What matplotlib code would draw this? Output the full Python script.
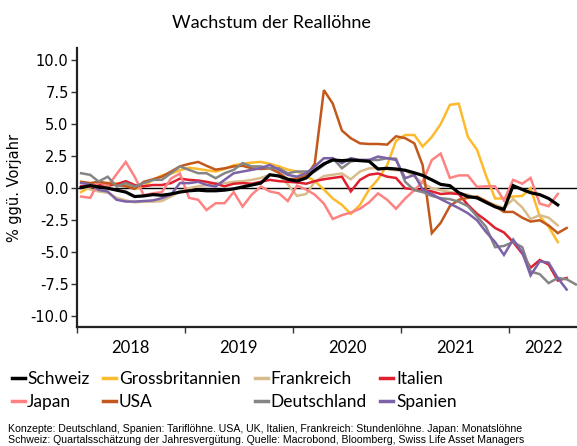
import numpy as np
import pandas as pd
import matplotlib
matplotlib.use("agg")
import matplotlib.pyplot as plt
import matplotlib.dates as mdates
from matplotlib.ticker import FixedLocator, FuncFormatter

plt.rcParams['axes.unicode_minus'] = False

# Monatswerte ab Januar 2018, % ggü. Vorjahr
schweiz = [0.05, 0.2, 0.1, 0.0, -0.15, -0.3, -0.65, -0.6, -0.5, -0.55, -0.45, -0.3,
           -0.2, -0.15, -0.2, -0.2, -0.15, -0.05, 0.1, 0.25, 0.4, 1.05, 0.95, 0.7,
           0.55, 0.8, 1.4, 1.9, 2.2, 2.15, 2.2, 2.15, 2.1, 1.5, 1.55, 1.5,
           1.4, 1.2, 1.0, 0.65, 0.3, 0.2, -0.35, -0.65, -0.75, -1.1, -1.45, -1.65,
           0.2, -0.1, -0.35, -0.5, -0.8, -1.3]
grossbritannien = [-0.3, 0.1, 0.25, 0.4, 0.4, 0.25, -0.05, 0.15, 0.65, 1.0, 1.15, 1.4,
                   1.6, 1.5, 1.4, 1.3, 1.5, 1.8, 1.9, 2.0, 2.05, 1.9, 1.7, 1.45,
                   1.3, 0.95, 0.55, -0.1, -0.8, -1.3, -2.0, -1.3, -0.1, 0.7, 1.8, 3.7,
                   4.15, 4.15, 3.25, 4.0, 5.0, 6.5, 6.6, 4.0, 3.0, 1.0, -0.8, -0.8,
                   -0.65, -0.6, 0.0, -2.2, -3.0, -4.2]
frankreich = [0.15, -0.1, -0.25, -0.35, -0.75, -0.95, -1.1, -1.05, -1.05, -1.0, -0.65, -0.25,
              0.0, 0.15, 0.25, 0.4, 0.4, 0.5, 0.55, 0.65, 0.8, 1.05, 1.0, 0.3,
              -0.6, -0.45, 0.5, 0.95, 1.05, 1.15, 0.7, 1.3, 1.55, 1.55, 1.5, 1.4,
              1.4, 0.9, 0.4, 0.0, -0.15, -0.3, -0.4, -0.5, -0.8, -1.05, -1.3, -1.55,
              -0.85, -1.5, -2.4, -2.1, -2.3, -2.9]
italien = [0.15, 0.15, 0.25, 0.2, 0.3, 0.55, 0.25, 0.15, 0.25, 0.25, 0.4, 0.75,
           0.65, 0.6, 0.5, 0.35, 0.15, 0.35, 0.4, 0.35, 0.5, 0.65, 0.55, 0.5,
           0.45, 0.35, 0.55, 0.7, 0.8, 0.9, -0.25, 0.65, 1.05, 1.15, 0.9, 0.8,
           0.0, -0.1, -0.15, -0.25, -0.45, -0.4, -0.45, -1.3, -2.0, -2.5, -3.1, -3.45,
           -4.2, -5.1, -6.2, -5.6, -5.95, -7.2, -7.0]
japan = [-0.65, -0.75, 0.5, 0.15, 1.1, 2.05, 0.9, -0.55, -0.4, -0.3, 0.75, 1.15,
         -0.75, -0.9, -1.7, -1.17, -1.17, -0.3, -1.43, -0.5, 0.13, -0.25, -0.4, -1.0,
         0.2, -0.1, -0.5, -1.2, -2.4, -2.1, -1.9, -1.6, -1.1, -0.4, -0.9, -1.6,
         -0.8, -0.15, 0.5, 2.2, 2.7, 0.8, 1.0, 1.0, 0.1, 0.15, 0.15, -0.95,
         0.65, 0.35, 0.8, -1.2, -1.4, -0.45]
usa = [0.5, 0.4, 0.5, 0.4, 0.25, 0.15, -0.05, 0.5, 0.7, 0.9, 1.3, 1.7,
       1.9, 2.05, 1.75, 1.45, 1.55, 1.7, 1.75, 1.55, 1.5, 1.55, 1.2, 0.7,
       0.75, 0.95, 1.9, 7.65, 6.6, 4.5, 3.9, 3.5, 3.45, 3.45, 3.4, 4.05,
       3.9, 3.5, 1.8, -3.5, -2.7, -1.4, -0.9, -0.75, -0.65, -1.0, -1.4, -1.85,
       -1.85, -2.3, -2.6, -2.5, -2.9, -3.5, -3.1]
deutschland = [1.17, 1.04, 0.52, 0.9, 0.13, 0.4, 0.13, 0.4, 0.65, 0.65, 1.17, 1.7,
               1.43, 1.17, 1.17, 0.78, 1.17, 1.43, 1.95, 1.7, 1.7, 1.56, 1.56, 1.17,
               1.3, 1.3, 1.3, 1.8, 2.34, 1.56, 2.08, 2.2, 2.2, 2.2, 2.34, 2.3,
               0.5, -0.15, -0.3, -0.6, -0.78, -0.85, -1.05, -1.4, -2.2, -3.0, -4.6, -4.5,
               -4.2, -4.6, -6.5, -6.7, -7.4, -7.0, -7.1, -7.5]
spanien = [0.4, 0.3, -0.13, -0.26, -0.9, -1.04, -1.04, -1.0, -0.95, -0.78, -0.5, 0.4,
           0.4, 0.5, 0.26, 0.13, 0.65, 1.17, 1.3, 1.43, 1.56, 1.82, 1.43, 1.04,
           0.9, 1.17, 1.69, 2.34, 2.34, 1.95, 2.34, 2.2, 2.2, 2.47, 2.34, 2.2,
           0.78, 1.04, -0.1, -0.45, -0.85, -1.2, -1.55, -1.95, -2.5, -3.4, -4.2, -5.2,
           -4.0, -5.0, -6.8, -5.7, -5.8, -7.0, -7.9]

series = [
    ('Schweiz', schweiz, '#000000'),
    ('Grossbritannien', grossbritannien, '#FDBA2C'),
    ('Frankreich', frankreich, '#D9BC8C'),
    ('Italien', italien, '#E0202F'),
    ('Japan', japan, '#FF8282'),
    ('USA', usa, '#C2581C'),
    ('Deutschland', deutschland, '#858585'),
    ('Spanien', spanien, '#7C62A6'),
]
years = [2018, 2019, 2020, 2021, 2022]

start = pd.Timestamp('2018-01-01')
end = pd.Timestamp('2022-08-19')


def month_dates(n):
    return pd.date_range(start, periods=n, freq='MS') + pd.Timedelta(days=14)


fig = plt.figure(figsize=(5.77, 4.46), dpi=100)
ax = fig.add_axes([0.1334, 0.266, 0.8666, 0.6254])

lines = {}
for name, vals, col in series:
    lw = 2.3 if name == 'Schweiz' else 1.8
    z = 5 if name == 'Schweiz' else 3
    ln, = ax.plot(month_dates(len(vals)), vals, color=col, lw=lw, zorder=z,
                  solid_joinstyle='miter')
    lines[name] = ln

ax.axhline(0, color='black', lw=1.0, zorder=2)

ax.set_ylim(-10.85, 10.9)
ax.set_xlim(start, end)
ax.set_yticks(np.arange(-10, 10.1, 2.5))
ax.yaxis.set_major_formatter(FuncFormatter(lambda v, p: '%.1f' % v))
ax.tick_params(axis='y', labelsize=10.5, length=4, width=1, color='#333333', pad=2)
ax.set_ylabel('% ggü. Vorjahr', fontsize=10.5, labelpad=6)

# Jahresticks an den Jahresgrenzen, Beschriftung in der Mitte
ax.xaxis.set_major_locator(FixedLocator([mdates.date2num(pd.Timestamp('%d-01-01' % y)) for y in years]))
ax.xaxis.set_major_formatter(FuncFormatter(lambda v, p: ''))
ax.tick_params(axis='x', which='major', length=4, width=1, color='#333333')
mids = []
for y in years:
    a = mdates.date2num(pd.Timestamp('%d-01-01' % y))
    b = min(mdates.date2num(pd.Timestamp('%d-01-01' % (y + 1))), mdates.date2num(end))
    mids.append((a + b) / 2)
ax.xaxis.set_minor_locator(FixedLocator(mids))
ax.xaxis.set_minor_formatter(FuncFormatter(lambda v, p: str(years[p])))
ax.tick_params(axis='x', which='minor', length=0, labelsize=12, pad=9)
for lab in ax.get_xticklabels(minor=True):
    lab.set_family('Lato')

for s in ['top', 'right']:
    ax.spines[s].set_visible(False)
for s in ['left', 'bottom']:
    ax.spines[s].set_linewidth(1.6)
    ax.spines[s].set_color('#222222')

fig.text(271 / 577, 1 - 23 / 446, 'Wachstum der Reallöhne', ha='center', va='center',
         fontsize=13, family='Lato')

# Legende zeilenweise: matplotlib füllt spaltenweise, daher umsortieren
names = [n for n, _, _ in series]
order = [names[i] for i in (0, 4, 1, 5, 2, 6, 3, 7)]
leg = fig.legend([lines[n] for n in order], order,
                 ncol=4, loc='upper left', bbox_to_anchor=(0.008, 1 - 364 / 446),
                 frameon=False, handlelength=0.75, handletextpad=0.15,
                 columnspacing=0.8, labelspacing=0.4, borderaxespad=0,
                 prop={'family': 'Lato', 'size': 12.5})
for h in leg.legend_handles:
    h.set_linewidth(2.5)

fig.text(8 / 577, 1 - 429 / 446,
         'Konzepte: Deutschland, Spanien: Tariflöhne. USA, UK, Italien, Frankreich: Stundenlöhne. Japan: Monatslöhne',
         fontsize=7.6, family='Liberation Sans', va='center')
fig.text(8 / 577, 1 - 440 / 446,
         'Schweiz: Quartalsschätzung der Jahresvergütung. Quelle: Macrobond, Bloomberg, Swiss Life Asset Managers',
         fontsize=7.6, family='Liberation Sans', va='center')

fig.savefig('out.png', dpi=100)
